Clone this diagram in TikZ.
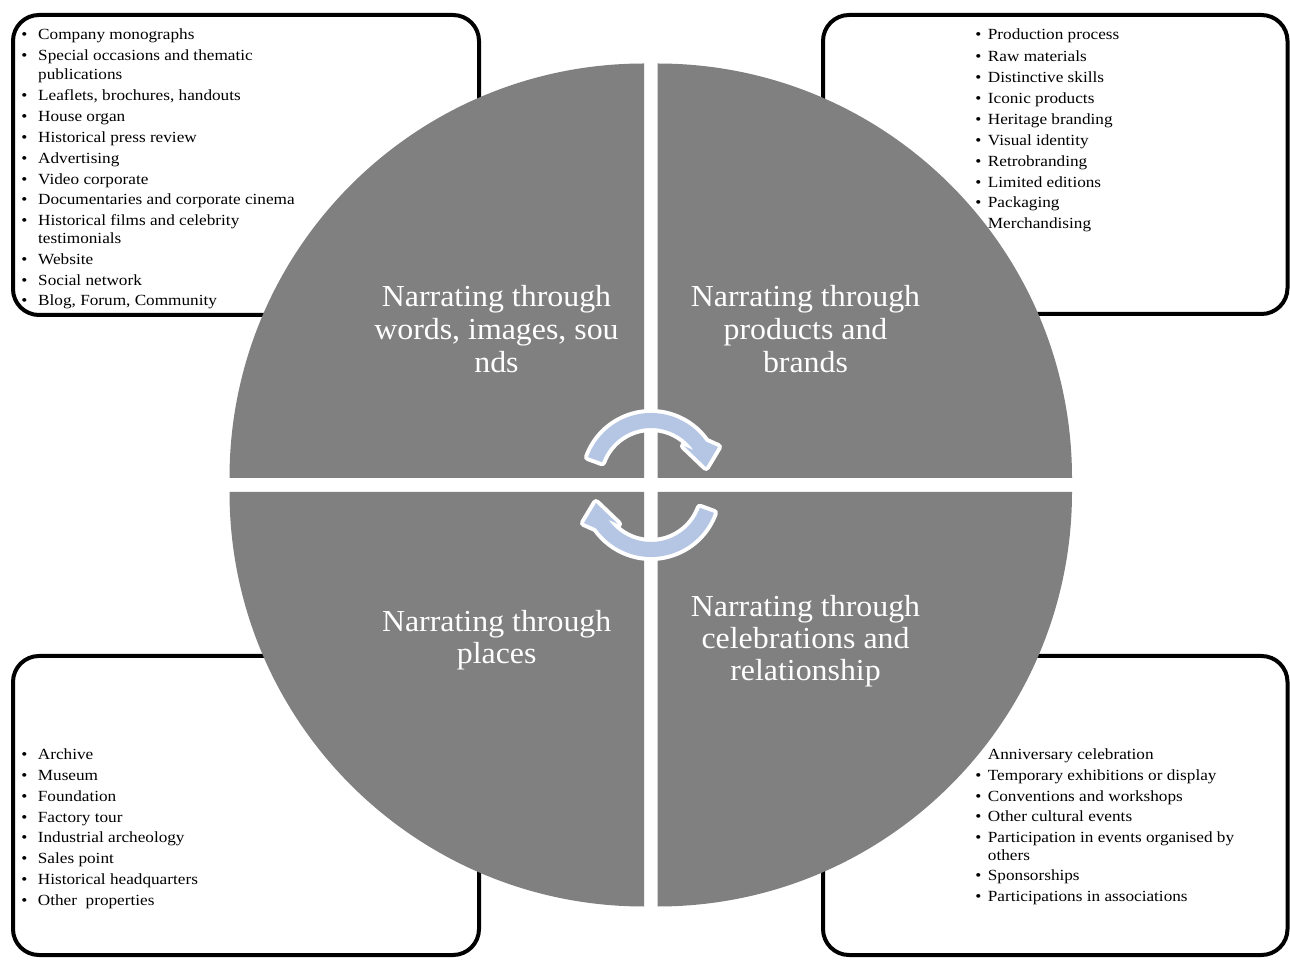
\documentclass[tikz,border=0pt]{standalone}
\usepackage{fontspec}
\setmainfont{Liberation Serif}
\newfontfamily\listfont[FakeStretch=1.11]{Liberation Serif}
\newfontfamily\titlefont[FakeStretch=1.045]{Liberation Serif}
\definecolor{quadgray}{RGB}{128,128,128}
\definecolor{arrowblue}{RGB}{180,198,228}
\tikzset{
  x=1pt, y=1pt,
  listbox/.style={draw=black, fill=white, line width=4pt, rounded corners=26pt},
  item/.style={anchor=base west, inner sep=0pt, font=\listfont\fontsize{15.5pt}{18pt}\selectfont},
  bul/.style={anchor=base, inner sep=0pt, font=\listfont\fontsize{15.5pt}{18pt}\selectfont},
  quad/.style={fill=quadgray},
  qlabel/.style={anchor=base, inner sep=0pt, text=white, font=\titlefont\fontsize{30.5pt}{33pt}\selectfont},
  cyclearrow/.style={fill=arrowblue, preaction={draw=white, line width=8pt, line join=round}}
}
\begin{document}
\begin{tikzpicture}
\useasboundingbox (0,0) rectangle (1290,959);

% four list panels behind the disc
\draw[listbox] (13,644) rectangle (479,944);
\draw[listbox] (823,645) rectangle (1287.5,944);
\draw[listbox] (13,4) rectangle (479,303);
\draw[listbox] (823,4) rectangle (1287.5,303);

% top-left list: words, images, sounds
\foreach \yy/\bb/\txt [count=\i] in {
  39.5/1/{Company monographs},
  61/1/{Special occasions and thematic},
  79.5/0/{publications},
  100.5/1/{Leaflets, brochures, handouts},
  121.5/1/{House organ},
  142.5/1/{Historical press review},
  163.3/1/{Advertising},
  184.3/1/{Video corporate},
  205/1/{Documentaries and corporate cinema},
  225.7/1/{Historical films and celebrity},
  243.5/0/{testimonials},
  264.3/1/{Website},
  285.5/1/{Social network},
  306/1/{Blog, Forum, Community}} {
  \node[item] (tl\i) at (38,959-\yy) {\txt};
  \ifnum\bb=1 \node[bul] (tlb\i) at (24.5,959-\yy) {\textbullet}; \fi
}

% top-right list: products and brands
\foreach \yy/\bb/\txt [count=\i] in {
  39.3/1/{Production process},
  61.2/1/{Raw materials},
  82.5/1/{Distinctive skills},
  103.3/1/{Iconic products},
  124.3/1/{Heritage branding},
  145.5/1/{Visual identity},
  166.5/1/{Retrobranding},
  187.3/1/{Limited editions},
  207.8/1/{Packaging},
  229/0/{Merchandising}} {
  \node[item] (tr\i) at (987.7,959-\yy) {\txt};
  \ifnum\bb=1 \node[bul] (trb\i) at (978.3,959-\yy) {\textbullet}; \fi
}

% bottom-left list: places
\foreach \yy/\bb/\txt [count=\i] in {
  759/1/{Archive},
  780/1/{Museum},
  801.5/1/{Foundation},
  822.3/1/{Factory tour},
  842.5/1/{Industrial archeology},
  863.3/1/{Sales point},
  884.3/1/{Historical headquarters},
  905/1/{Other\ \ properties}} {
  \node[item] (bl\i) at (37.7,959-\yy) {\txt};
  \ifnum\bb=1 \node[bul] (blb\i) at (24.5,959-\yy) {\textbullet}; \fi
}

% bottom-right list: celebrations and relationship
\foreach \yy/\bb/\txt [count=\i] in {
  759/0/{Anniversary celebration},
  780/1/{Temporary exhibitions or display},
  801/1/{Conventions and workshops},
  821.7/1/{Other cultural events},
  842.3/1/{Participation in events organised by},
  860/0/{others},
  880.7/1/{Sponsorships},
  901.7/1/{Participations in associations}} {
  \node[item] (br\i) at (987.7,959-\yy) {\txt};
  \ifnum\bb=1 \node[bul] (brb\i) at (978.3,959-\yy) {\textbullet}; \fi
}

% the disc, split into four quadrants
\fill[quad] (644,481) -- (229.5,481) arc[start angle=180, end angle=90, radius=414.5] -- cycle;
\fill[quad] (657.5,481) -- (657.5,895.5) arc[start angle=90, end angle=0, radius=414.5] -- cycle;
\fill[quad] (644,467) -- (229.5,467) arc[start angle=180, end angle=270, radius=414.5] -- cycle;
\fill[quad] (657.5,467) -- (1072,467) arc[start angle=0, end angle=-90, radius=414.5] -- cycle;

% quadrant titles
\node[qlabel] (q1a) at (496.5,959-306.7) {Narrating through};
\node[qlabel] (q1b) at (496.5,959-339.7) {words, images, sou};
\node[qlabel] (q1c) at (496.5,959-372.7) {nds};

\node[qlabel] (q2a) at (805.5,959-306.7) {Narrating through};
\node[qlabel] (q2b) at (805.5,959-339.7) {products and};
\node[qlabel] (q2c) at (805.5,959-372.7) {brands};

\node[qlabel] (q3a) at (496.7,959-631.7) {Narrating through};
\node[qlabel] (q3b) at (496.7,959-663.7) {places};

\node[qlabel] (q4a) at (805.5,959-616.7) {Narrating through};
\node[qlabel] (q4b) at (805.5,959-648.7) {celebrations and};
\node[qlabel] (q4c) at (805.5,959-680.7) {relationship};

% the two circular arrows in the middle
\path[cyclearrow] (588.04,501.92) arc[start angle=160, end angle=35, radius=67]
  -- (718,512) -- (706,492) -- (684,513) -- (693.6,508.8)
  arc[start angle=35, end angle=160, radius=52] -- cycle;
\begin{scope}[rotate around={180:(651,474)}]
\path[cyclearrow] (588.04,501.92) arc[start angle=160, end angle=35, radius=67]
  -- (718,512) -- (706,492) -- (684,513) -- (693.6,508.8)
  arc[start angle=35, end angle=160, radius=52] -- cycle;
\end{scope}
\end{tikzpicture}
\end{document}
